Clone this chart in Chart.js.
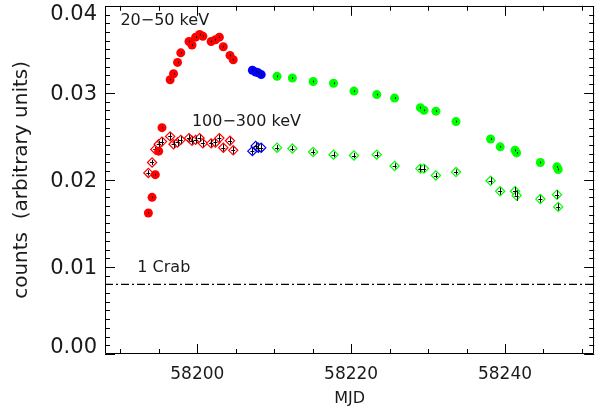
<!DOCTYPE html>
<html>
<head>
<meta charset="utf-8">
<script src="https://cdn.jsdelivr.net/npm/chart.js@4.4.1/dist/chart.umd.min.js"></script>
<style>
  html, body { margin: 0; padding: 0; background: #fff; }
  canvas { display: block; }
</style>
</head>
<body>
<canvas id="c" width="600" height="411"></canvas>
<script>
// ---------------- data ----------------
const mjdRed = [58193.64, 58194.12, 58194.54, 58194.98, 58195.41, 58196.47, 58196.91, 58197.43, 58197.85, 58198.92,
                58199.31, 58199.78, 58200.30, 58200.72, 58201.80, 58202.36, 58202.87, 58203.38, 58204.25, 58204.67];
const softRed = [0.0162, 0.0180, 0.0206, 0.0233, 0.0260, 0.0315, 0.0322, 0.0335, 0.0346, 0.0359,
                 0.0355, 0.0364, 0.0367, 0.0365, 0.0359, 0.0361, 0.0364, 0.0353, 0.0343, 0.0338];
const hardRed = [0.0208, 0.0220, 0.0235, 0.0241, 0.0244, 0.0250, 0.0241, 0.0243, 0.0246, 0.0248,
                 0.0245, 0.0246, 0.0248, 0.0242, 0.0242, 0.0243, 0.0248, 0.0237, 0.0245, 0.0234];
const errHardRed = [0.0003, 0.0003, 0.0003, 0.0004, 0.0004, 0.0004, 0.0004, 0.0004, 0.0004, 0.0004,
                    0.0004, 0.0004, 0.0004, 0.0004, 0.0004, 0.0004, 0.0004, 0.0004, 0.0004, 0.0004];

const mjdBlue = [58207.16, 58207.59, 58207.93, 58208.31];
const softBlue = [0.0326, 0.0324, 0.0323, 0.0321];
const hardBlue = [0.0233, 0.0239, 0.0237, 0.0237];
const errHardBlue = [0.0004, 0.0004, 0.0004, 0.0004];

const mjdGreen = [58210.37, 58212.36, 58215.06, 58217.71, 58220.37, 58223.33, 58225.65, 58229.00, 58229.47,
                  58231.02, 58233.63, 58238.13, 58239.38, 58241.31, 58241.51, 58244.60, 58246.76, 58246.92];
const softGreen = [0.0319, 0.0317, 0.0313, 0.0311, 0.0302, 0.0298, 0.0294, 0.0283, 0.0280,
                   0.0279, 0.0267, 0.0247, 0.0238, 0.0234, 0.0231, 0.0220, 0.0215, 0.0212];
const hardGreen = [0.0237, 0.0236, 0.0232, 0.0229, 0.0228, 0.0229, 0.0216, 0.0213, 0.0213,
                   0.0205, 0.0209, 0.0199, 0.0187, 0.0187, 0.0182, 0.0178, 0.0183, 0.0169];
const errHardGreen = [0.0003, 0.0003, 0.0003, 0.0003, 0.0003, 0.0003, 0.0003, 0.0004, 0.0004,
                      0.0003, 0.0003, 0.0004, 0.0004, 0.0005, 0.0006, 0.0004, 0.0005, 0.0004];
const errSoft = 0.0001;

const crabLevel = 0.008;
const xMin = 58188, xMax = 58251.6;
const yMin = 0, yMax = 0.04;
const xTickLabels = [58200, 58220, 58240];
const yTickLabels = ['0.00', '0.01', '0.02', '0.03', '0.04'];

// text labels placed in data coordinates
const bandLabels = [
  { text: '20\u221250 keV',   x: 58190.0, y: 0.0383 },
  { text: '100\u2212300 keV', x: 58199.3, y: 0.0267 },
  { text: '1 Crab',           x: 58192.2, y: 0.0099 }
];

const FONT = "'DejaVu Sans', 'Liberation Sans', sans-serif";
const TEXT = '#1a1a1a';

function pts(xs, ys) { return xs.map((x, i) => ({ x: x, y: ys[i] })); }

// ---------------- plugins ----------------
const frame = {
  id: 'frame',
  beforeDatasetsDraw(chart) {
    const { ctx, chartArea: a, scales: { x, y } } = chart;
    ctx.save();
    ctx.strokeStyle = '#000';
    ctx.lineWidth = 1;
    ctx.beginPath();
    ctx.rect(Math.round(a.left) + 0.5, Math.round(a.top) + 0.5,
             Math.round(a.right - a.left) - 1, Math.round(a.bottom - a.top) - 1);
    ctx.stroke();
    ctx.beginPath();
    for (let v = 58190; v <= xMax; v += 5) {
      const px = Math.round(x.getPixelForValue(v)) + 0.5;
      const len = (v % 20 === 0) ? 10 : 5;
      ctx.moveTo(px, a.bottom); ctx.lineTo(px, a.bottom - len);
      ctx.moveTo(px, a.top); ctx.lineTo(px, a.top + len);
    }
    for (let i = 0; i <= 40; i++) {
      const py = Math.round(y.getPixelForValue(i * 0.001)) + 0.5;
      const len = (i % 10 === 0) ? 10 : 5;
      ctx.moveTo(a.left, py); ctx.lineTo(a.left + len, py);
      ctx.moveTo(a.right, py); ctx.lineTo(a.right - len, py);
    }
    ctx.stroke();
    ctx.fillStyle = TEXT;
    // y tick labels, kept inside the frame height
    ctx.font = '21px ' + FONT;
    ctx.textAlign = 'right';
    ctx.textBaseline = 'middle';
    yTickLabels.forEach(t => {
      let py = y.getPixelForValue(parseFloat(t)) + 2;
      py = Math.min(Math.max(py, a.top + 9), a.bottom - 6);
      ctx.fillText(t, a.left - 8, py);
    });
    // band labels
    ctx.font = '16px ' + FONT;
    ctx.textAlign = 'left';
    bandLabels.forEach(l => ctx.fillText(l.text, x.getPixelForValue(l.x), y.getPixelForValue(l.y)));
    ctx.restore();
  },
  afterDatasetDraw(chart, args) {
    const ds = chart.data.datasets[args.index];
    if (!ds.err) return;
    const { ctx, scales: { y } } = chart;
    ctx.save();
    ctx.strokeStyle = '#000';
    ctx.lineWidth = 1;
    ctx.beginPath();
    args.meta.data.forEach((el, i) => {
      const v = ds.data[i].y;
      const e = Array.isArray(ds.err) ? ds.err[i] : ds.err;
      const px = Math.round(el.x) + 0.5;
      ctx.moveTo(px, y.getPixelForValue(v - e)); ctx.lineTo(px, y.getPixelForValue(v + e));
      if (ds.xbar) { ctx.moveTo(el.x - 2, Math.round(el.y) + 0.5); ctx.lineTo(el.x + 2, Math.round(el.y) + 0.5); }
    });
    ctx.stroke();
    ctx.restore();
  }
};

// ---------------- chart ----------------
function circles(xs, ys, color) {
  return { type: 'scatter', data: pts(xs, ys), pointStyle: 'circle', pointRadius: 4.5,
           backgroundColor: color, borderColor: color, borderWidth: 0, err: errSoft, order: 0 };
}
function diamonds(xs, ys, errs, color) {
  return { type: 'scatter', data: pts(xs, ys), pointStyle: 'rectRot', pointRadius: 4.6,
           backgroundColor: '#fff', borderColor: color, borderWidth: 1.2, err: errs, xbar: true, order: 1 };
}

new Chart(document.getElementById('c'), {
  type: 'scatter',
  data: {
    datasets: [
      diamonds(mjdRed, hardRed, errHardRed, '#ff0000'),
      diamonds(mjdBlue, hardBlue, errHardBlue, '#0000ff'),
      diamonds(mjdGreen, hardGreen, errHardGreen, '#00ff00'),
      circles(mjdRed, softRed, '#ff0000'),
      circles(mjdBlue, softBlue, '#0000ff'),
      circles(mjdGreen, softGreen, '#00ff00'),
      { type: 'line', data: [{ x: xMin, y: crabLevel }, { x: xMax, y: crabLevel }],
        borderColor: '#000', borderWidth: 1.2, borderDash: [8, 3, 2, 3], pointRadius: 0, order: 2 }
    ]
  },
  options: {
    responsive: false,
    animation: false,
    events: [],
    layout: { padding: { top: 3, right: 2, left: 0, bottom: 0 } },
    plugins: { legend: { display: false }, tooltip: { enabled: false } },
    scales: {
      x: {
        type: 'linear', min: xMin, max: xMax,
        afterFit(s) { s.height = 57; s.paddingLeft = 0; s.paddingRight = 0; s.paddingTop = 0; s.paddingBottom = 0; },
        afterBuildTicks(s) { s.ticks = xTickLabels.map(v => ({ value: v })); },
        ticks: { callback: v => String(v), font: { family: FONT, size: 17 }, color: TEXT, padding: 10, maxRotation: 0 },
        grid: { display: false, drawTicks: false },
        border: { display: false },
        title: { display: true, text: 'MJD', font: { family: FONT, size: 16 }, color: TEXT, padding: { top: 0, bottom: 3 } }
      },
      y: {
        type: 'linear', min: yMin, max: yMax,
        afterFit(s) { s.width = 105; s.paddingTop = 0; s.paddingBottom = 0; s.paddingLeft = 0; s.paddingRight = 0; },
        ticks: { display: false },
        grid: { display: false, drawTicks: false },
        border: { display: false },
        title: { display: true, text: 'counts  (arbitrary units)', font: { family: FONT, size: 20 }, color: TEXT, padding: { top: 10, bottom: 0 } }
      }
    }
  },
  plugins: [frame]
});
</script>
</body>
</html>
